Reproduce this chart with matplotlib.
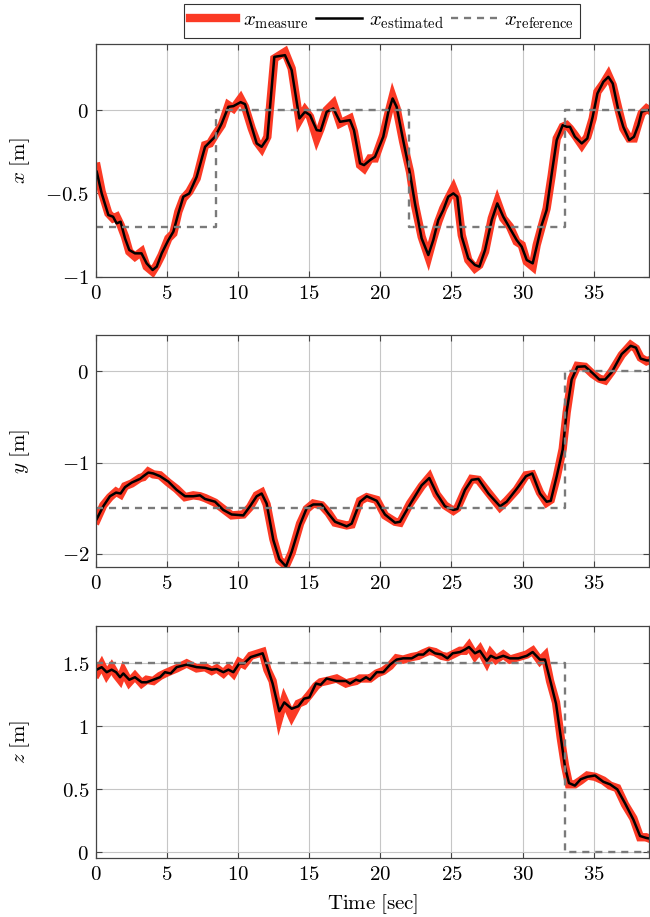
import matplotlib
matplotlib.use('Agg')
from matplotlib import pyplot as plt
from matplotlib.ticker import FuncFormatter

plt.rcParams['mathtext.fontset'] = 'cm'
plt.rcParams['font.family'] = 'serif'
plt.rcParams['font.size'] = 15

# --- x position ---
t_x = [0.05, 0.4, 0.87, 1.2, 1.45, 1.73, 2.04, 2.34, 2.74, 3.2, 3.56, 3.98, 4.27, 4.62, 5.09, 5.44,
       5.79, 6.14, 6.56, 7.08, 7.67, 8.02, 8.37, 8.84, 9.31, 9.66, 10.17, 10.48, 10.95, 11.3, 11.65,
       12.05, 12.54, 13.29, 13.76, 14.3, 14.7, 15.05, 15.52, 15.8, 16.22, 16.69, 17.16, 17.86, 18.14,
       18.57, 18.85, 19.27, 19.62, 20.2, 20.56, 20.86, 21.14, 21.6, 22.08, 22.43, 22.9, 23.37, 23.72,
       24.07, 24.42, 24.77, 25.13, 25.41, 25.72, 26.18, 26.65, 26.96, 27.36, 27.83, 28.22, 28.64,
       29.11, 29.58, 29.94, 30.29, 30.71, 30.99, 31.34, 31.69, 32.05, 32.4, 32.82, 33.1, 33.33, 33.68,
       34.16, 34.55, 34.93, 35.26, 35.68, 36.03, 36.34, 36.73, 37.08, 37.5, 37.83, 38.14, 38.37,
       38.72, 38.9]
x_est = [-0.37, -0.50, -0.63, -0.64, -0.68, -0.67, -0.77, -0.84, -0.86, -0.86, -0.92, -0.96, -0.94,
         -0.86, -0.78, -0.73, -0.62, -0.52, -0.50, -0.40, -0.22, -0.19, -0.16, -0.08, 0.02, 0.024,
         0.048, 0.036, -0.10, -0.20, -0.22, -0.17, 0.32, 0.33, 0.24, -0.05, -0.01, -0.03, -0.12,
         -0.124, -0.01, 0.01, -0.07, -0.06, -0.12, -0.32, -0.33, -0.30, -0.28, -0.16, -0.01, 0.07,
         0.02, -0.18, -0.38, -0.56, -0.77, -0.87, -0.78, -0.66, -0.60, -0.52, -0.50, -0.52, -0.76,
         -0.89, -0.93, -0.94, -0.84, -0.66, -0.56, -0.64, -0.71, -0.78, -0.82, -0.90, -0.92, -0.82,
         -0.69, -0.60, -0.38, -0.18, -0.09, -0.10, -0.10, -0.16, -0.20, -0.17, -0.04, 0.10, 0.17,
         0.20, 0.16, 0.0, -0.10, -0.18, -0.16, -0.09, -0.01, 0.0, 0.0]
x_meas = [-0.34, -0.49, -0.62, -0.65, -0.64, -0.69, -0.76, -0.85, -0.88, -0.85, -0.94, -0.97, -0.93,
          -0.87, -0.77, -0.74, -0.61, -0.53, -0.49, -0.41, -0.21, -0.20, -0.15, -0.09, 0.03, 0.01,
          0.07, 0.02, -0.11, -0.19, -0.23, -0.16, 0.31, 0.35, 0.25, -0.06, 0.0, -0.04, -0.17, -0.11,
          0.0, 0.04, -0.08, -0.05, -0.13, -0.33, -0.35, -0.29, -0.29, -0.15, -0.02, 0.08, 0.01,
          -0.19, -0.37, -0.57, -0.76, -0.88, -0.77, -0.67, -0.59, -0.53, -0.47, -0.53, -0.75, -0.90,
          -0.95, -0.93, -0.85, -0.65, -0.55, -0.65, -0.70, -0.79, -0.81, -0.91, -0.94, -0.81, -0.70,
          -0.59, -0.39, -0.17, -0.10, -0.09, -0.11, -0.15, -0.21, -0.16, -0.05, 0.11, 0.16, 0.21,
          0.15, 0.01, -0.11, -0.17, -0.17, -0.08, -0.02, 0.01, 0.0]

# --- y position ---
t_y = [0.05, 0.51, 0.98, 1.41, 1.73, 2.04, 2.51, 3.09, 3.33, 3.68, 4.03, 4.5, 5.09, 5.67, 6.26, 6.84,
       7.31, 7.67, 8.37, 8.95, 9.54, 10.36, 10.83, 11.3, 11.65, 12.0, 12.47, 12.89, 13.36, 13.76,
       14.35, 14.82, 15.28, 15.87, 16.34, 16.81, 17.63, 17.98, 18.57, 19.04, 19.74, 20.32, 21.03,
       21.38, 22.08, 22.9, 23.44, 23.96, 24.54, 25.13, 25.41, 25.95, 26.42, 26.89, 27.59, 28.41,
       28.88, 29.58, 30.24, 30.68, 31.22, 31.69, 31.98, 32.4, 32.82, 33.1, 33.45, 33.85, 34.39,
       34.93, 35.4, 35.8, 36.27, 36.97, 37.6, 37.97, 38.3, 38.72, 38.9]
y_est = [-1.62, -1.48, -1.37, -1.33, -1.34, -1.27, -1.22, -1.18, -1.15, -1.11, -1.12, -1.15, -1.21,
         -1.30, -1.37, -1.37, -1.36, -1.40, -1.43, -1.52, -1.57, -1.58, -1.48, -1.37, -1.34, -1.45,
         -1.85, -2.06, -2.14, -1.98, -1.68, -1.50, -1.46, -1.46, -1.56, -1.65, -1.70, -1.67, -1.43,
         -1.37, -1.42, -1.57, -1.66, -1.65, -1.46, -1.25, -1.17, -1.34, -1.48, -1.52, -1.51, -1.30,
         -1.19, -1.18, -1.34, -1.48, -1.43, -1.29, -1.15, -1.12, -1.34, -1.43, -1.42, -1.15, -0.86,
         -0.44, -0.09, 0.05, 0.055, -0.02, -0.09, -0.09, -0.01, 0.19, 0.28, 0.26, 0.14, 0.12, 0.12]
y_meas = [-1.63, -1.47, -1.38, -1.32, -1.35, -1.26, -1.23, -1.17, -1.16, -1.10, -1.13, -1.14, -1.22,
          -1.29, -1.38, -1.36, -1.37, -1.39, -1.44, -1.51, -1.58, -1.57, -1.49, -1.36, -1.33, -1.46,
          -1.84, -2.07, -2.13, -1.99, -1.67, -1.51, -1.45, -1.47, -1.55, -1.66, -1.69, -1.68, -1.42,
          -1.38, -1.41, -1.58, -1.65, -1.66, -1.45, -1.26, -1.16, -1.35, -1.47, -1.53, -1.50, -1.31,
          -1.18, -1.19, -1.33, -1.49, -1.42, -1.30, -1.14, -1.13, -1.33, -1.44, -1.41, -1.16, -0.85,
          -0.45, -0.08, 0.06, 0.05, -0.03, -0.08, -0.10, 0.0, 0.18, 0.29, 0.25, 0.15, 0.11, 0.12]

# --- z position ---
t_z = [0.05, 0.4, 0.75, 1.1, 1.41, 1.69, 1.92, 2.34, 2.74, 3.21, 3.56, 4.03, 4.5, 4.85, 5.25, 5.67,
       6.38, 7.08, 7.67, 8.14, 8.49, 8.96, 9.31, 9.66, 10.08, 10.41, 10.88, 11.72, 12.05, 12.42,
       12.89, 13.24, 13.76, 14.23, 14.63, 15.0, 15.47, 15.8, 16.22, 16.92, 17.58, 17.86, 18.28,
       18.57, 18.99, 19.27, 19.74, 20.2, 20.68, 21.14, 21.6, 22.2, 22.67, 23.02, 23.44, 23.84, 24.31,
       24.71, 25.08, 25.6, 25.95, 26.23, 26.65, 27.0, 27.48, 27.76, 28.13, 28.64, 29.11, 29.7,
       30.29, 30.71, 31.22, 31.57, 31.93, 32.35, 32.68, 32.98, 33.26, 33.68, 34.08, 34.55, 35.09,
       35.68, 36.15, 36.66, 37.2, 37.79, 38.26, 38.68, 38.9]
z_est = [1.45, 1.47, 1.43, 1.45, 1.43, 1.39, 1.42, 1.37, 1.39, 1.35, 1.35, 1.37, 1.39, 1.43, 1.42,
         1.47, 1.49, 1.47, 1.465, 1.45, 1.455, 1.43, 1.45, 1.43, 1.50, 1.50, 1.55, 1.58, 1.47, 1.34,
         1.12, 1.19, 1.14, 1.16, 1.22, 1.23, 1.34, 1.33, 1.38, 1.36, 1.36, 1.34, 1.37, 1.36, 1.39,
         1.37, 1.43, 1.43, 1.49, 1.53, 1.54, 1.54, 1.57, 1.57, 1.61, 1.58, 1.57, 1.54, 1.58, 1.59,
         1.61, 1.63, 1.58, 1.60, 1.52, 1.56, 1.54, 1.56, 1.54, 1.54, 1.56, 1.59, 1.53, 1.53, 1.37,
         1.18, 0.92, 0.68, 0.55, 0.53, 0.58, 0.60, 0.61, 0.56, 0.54, 0.50, 0.39, 0.26, 0.13, 0.115,
         0.11]
z_meas = [1.42, 1.49, 1.41, 1.47, 1.41, 1.37, 1.44, 1.35, 1.40, 1.34, 1.37, 1.36, 1.40, 1.42, 1.44,
          1.46, 1.50, 1.46, 1.47, 1.44, 1.46, 1.42, 1.46, 1.42, 1.51, 1.49, 1.56, 1.59, 1.45, 1.36,
          1.07, 1.21, 1.08, 1.18, 1.20, 1.25, 1.32, 1.35, 1.36, 1.38, 1.34, 1.35, 1.36, 1.38, 1.38,
          1.38, 1.42, 1.44, 1.48, 1.54, 1.53, 1.55, 1.56, 1.58, 1.60, 1.59, 1.56, 1.55, 1.57, 1.60,
          1.60, 1.64, 1.56, 1.61, 1.51, 1.58, 1.53, 1.57, 1.53, 1.55, 1.57, 1.60, 1.52, 1.56, 1.36,
          1.19, 0.91, 0.69, 0.54, 0.54, 0.57, 0.61, 0.60, 0.57, 0.53, 0.51, 0.38, 0.27, 0.12, 0.12,
          0.11]

# --- reference set-points ---
t_ref = [0, 8.44, 8.44, 22.02, 22.02, 32.98, 32.98, 38.9]
x_ref = [-0.7, -0.7, 0, 0, -0.7, -0.7, 0, 0]
y_ref = [-1.5, -1.5, -1.5, -1.5, -1.5, -1.5, 0, 0]
z_ref = [1.5, 1.5, 1.5, 1.5, 1.5, 1.5, 0, 0]

red = '#fb3a25'
fig = plt.figure(figsize=(6.5, 9.17), dpi=100)

panels = [
    (0.6983, t_x, x_meas, x_est, x_ref, r'$x\ [\mathrm{m}]$', (-1.0, 0.396), [-1, -0.5, 0]),
    (0.3813, t_y, y_meas, y_est, y_ref, r'$y\ [\mathrm{m}]$', (-2.15, 0.40), [-2, -1, 0]),
    (0.0643, t_z, z_meas, z_est, z_ref, r'$z\ [\mathrm{m}]$', (-0.045, 1.80), [0, 0.5, 1, 1.5]),
]

fmt = FuncFormatter(lambda v, p: '$%g$' % v)
axes = []
for bottom, t, meas, est, ref, lab, ylim, yt in panels:
    ax = fig.add_axes([0.1477, bottom, 0.851, 0.2535])
    ax.plot(t, meas, color=red, lw=6, solid_joinstyle='miter', label=r'$x_{\mathrm{measure}}$')
    ax.plot(t, est, color='black', lw=1.8, label=r'$x_{\mathrm{estimated}}$')
    ax.plot(t_ref, ref, color='#7a7a7a', lw=1.7, ls=(0, (3, 2.5)), label=r'$x_{\mathrm{reference}}$')
    ax.set_xlim(0, 38.9)
    ax.set_ylim(*ylim)
    ax.set_xticks([0, 5, 10, 15, 20, 25, 30, 35])
    ax.set_yticks(yt)
    ax.xaxis.set_major_formatter(fmt)
    ax.yaxis.set_major_formatter(fmt)
    ax.grid(True, color='#c6c6c6', lw=0.8)
    ax.set_axisbelow(True)
    ax.tick_params(direction='in', top=True, right=True, length=4, width=0.8, color='#444444',
                   labelsize=15, pad=5)
    for s in ax.spines.values():
        s.set_color('#444444')
        s.set_linewidth(0.9)
    ax.set_ylabel(lab, fontsize=15)
    ax.yaxis.set_label_coords(-0.115, 0.5)
    axes.append(ax)

axes[-1].set_xlabel(r'$\mathrm{Time\ [sec]}$', fontsize=15)
axes[-1].xaxis.set_label_coords(0.5, -0.145)

h, l = axes[0].get_legend_handles_labels()
leg = fig.legend(h, l, loc='center', bbox_to_anchor=(382 / 650, 1 - 21 / 917), ncol=3,
                 fontsize=15, frameon=True, fancybox=False, edgecolor='black',
                 handlelength=2.2, handletextpad=0.35, columnspacing=0.35, borderpad=0.3)
leg.get_frame().set_linewidth(0.8)

fig.savefig('out.png', dpi=100)
